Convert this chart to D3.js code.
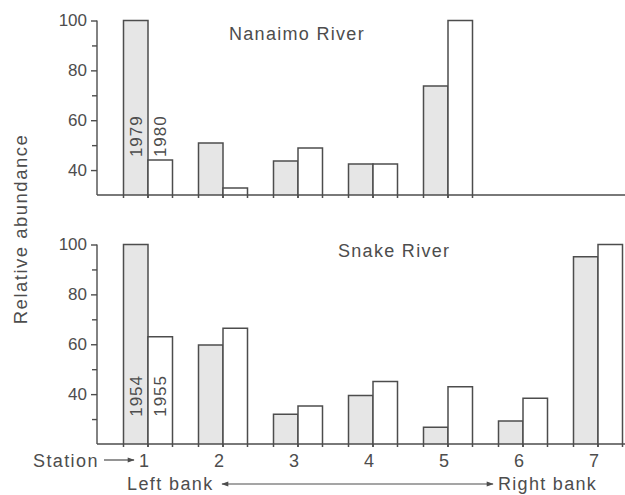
<!DOCTYPE html>
<html>
<head>
<meta charset="utf-8">
<script src="https://cdn.jsdelivr.net/npm/d3@7/dist/d3.min.js"></script>
<style>
  html, body { margin: 0; padding: 0; background: #fff; }
  svg { display: block; }
  text { font-family: "Liberation Sans", Arial, Helvetica, sans-serif; fill: #4d4d4d; }
</style>
</head>
<body>
<svg id="chart" width="625" height="495"></svg>
<script>
// Relative abundance by sampling station, left bank (1) to right bank (7)
const stations = [1, 2, 3, 4, 5, 6, 7];

const nanaimoYears = ["1979", "1980"];
const nanaimo1979 = [100, 50.9, 43.6, 42.4, 73.7, null, null];
const nanaimo1980 = [44.0, 32.8, 48.9, 42.4, 100, null, null];

const snakeYears = ["1954", "1955"];
const snake1954 = [100, 59.7, 31.9, 39.4, 26.7, 29.2, 95.1];
const snake1955 = [63.0, 66.4, 35.2, 45.1, 43.0, 38.3, 100];

const majorTicks = [40, 60, 80, 100];
const nanaimoMinor = [50, 70, 90];
const snakeMinor = [30, 50, 70, 90];

const svg = d3.select("#chart");
const ink = "#4d4d4d";
const axisLeftX = 97;
const rightEdge = 625;
const barW = 24.5;

// Station centres (shared edge between the two years' bars)
const x = d3.scalePoint().domain(stations).range([148, 598]);

// Arrowhead marker
const defs = svg.append("defs");
defs.append("marker")
  .attr("id", "arrow")
  .attr("viewBox", "0 0 10 10")
  .attr("refX", 9).attr("refY", 5)
  .attr("markerWidth", 9).attr("markerHeight", 7)
  .attr("markerUnits", "userSpaceOnUse")
  .attr("orient", "auto-start-reverse")
  .append("path")
  .attr("d", "M0,1.5 L10,5 L0,8.5 Z")
  .attr("fill", ink);

function panel(cfg) {
  const y = d3.scaleLinear().domain(cfg.domain).range(cfg.range);
  const base = cfg.range[0];
  const g = svg.append("g");

  // Axis line with major and minor ticks
  const major = d3.axisLeft(y).tickValues(majorTicks).tickSize(6).tickSizeOuter(0).tickPadding(4);
  const ax = g.append("g").attr("transform", `translate(${axisLeftX},0)`).call(major);
  ax.select(".domain").attr("stroke", ink).attr("stroke-width", 1.4)
    .attr("d", `M0,${base}V${y(100)}`);
  ax.selectAll(".tick line").attr("stroke", ink).attr("stroke-width", 1.4);
  ax.selectAll(".tick text")
    .style("font-family", '"Liberation Sans", Arial, sans-serif')
    .style("font-size", "17px").attr("fill", ink);

  const minor = d3.axisLeft(y).tickValues(cfg.minor).tickSize(5).tickFormat("");
  const mx = g.append("g").attr("transform", `translate(${axisLeftX},0)`).call(minor);
  mx.select(".domain").remove();
  mx.selectAll(".tick line").attr("stroke", ink).attr("stroke-width", 1.4);

  // Bars: first year shaded, second year open
  const series = [
    { vals: cfg.first, off: -barW, fill: "#e6e6e6" },
    { vals: cfg.second, off: 0, fill: "#ffffff" }
  ];
  series.forEach(s => {
    const data = stations.map((st, i) => ({ st, v: s.vals[i] })).filter(d => d.v != null);
    g.selectAll(null).data(data).enter().append("rect")
      .attr("x", d => x(d.st) + s.off)
      .attr("y", d => y(d.v))
      .attr("width", barW)
      .attr("height", d => base - y(d.v))
      .attr("fill", s.fill);
    g.selectAll(null).data(data).enter().append("path")
      .attr("d", d => {
        const x0 = x(d.st) + s.off, x1 = x0 + barW;
        return `M${x0},${base + 3}V${y(d.v)}H${x1}V${base + 3}`;
      })
      .attr("fill", "none")
      .attr("stroke", ink)
      .attr("stroke-width", 1.5);
  });

  // Baseline
  g.append("line")
    .attr("x1", axisLeftX).attr("x2", rightEdge)
    .attr("y1", base).attr("y2", base)
    .attr("stroke", ink).attr("stroke-width", 1.5);

  // Year labels written up the station-1 bars
  cfg.years.forEach((yr, i) => {
    const cx = x(stations[0]) + (i === 0 ? -barW / 2 : barW / 2);
    g.append("text")
      .attr("transform", `translate(${cx + 6},${y(cfg.labelAt)}) rotate(-90)`)
      .attr("text-anchor", "start")
      .style("font-size", "17px")
      .style("letter-spacing", "1px")
      .text(yr);
  });

  // River name
  g.append("text")
    .attr("x", cfg.titleX).attr("y", cfg.titleY)
    .style("font-size", "18px")
    .style("letter-spacing", "1.3px")
    .text(cfg.title);
}

panel({
  title: "Nanaimo River", titleX: 229, titleY: 40,
  domain: [30, 100], range: [195, 20.5],
  minor: nanaimoMinor,
  first: nanaimo1979, second: nanaimo1980,
  years: nanaimoYears, labelAt: 45.2
});

panel({
  title: "Snake River", titleX: 338, titleY: 257,
  domain: [20, 100], range: [444, 244.5],
  minor: snakeMinor,
  first: snake1954, second: snake1955,
  years: snakeYears, labelAt: 30.9
});

// Shared y-axis title
svg.append("text")
  .attr("transform", "translate(27,229) rotate(-90)")
  .attr("text-anchor", "middle")
  .style("font-size", "18.5px")
  .style("letter-spacing", "1.5px")
  .text("Relative abundance");

// Station numbers
svg.selectAll(".stn").data(stations).enter().append("text")
  .attr("class", "stn")
  .attr("x", d => x(d) - 4)
  .attr("y", 467)
  .attr("text-anchor", "middle")
  .style("font-size", "18px")
  .text(d => d);

svg.append("text")
  .attr("x", 33).attr("y", 467)
  .style("font-size", "18px")
  .style("letter-spacing", "1.4px")
  .text("Station");

svg.append("line")
  .attr("x1", 104).attr("x2", 134)
  .attr("y1", 460).attr("y2", 460)
  .attr("stroke", ink).attr("stroke-width", 1.2)
  .attr("marker-end", "url(#arrow)");

// Bank direction
svg.append("text")
  .attr("x", 127).attr("y", 490)
  .style("font-size", "18px")
  .style("letter-spacing", "1.4px")
  .text("Left bank");

svg.append("line")
  .attr("x1", 222).attr("x2", 493)
  .attr("y1", 484).attr("y2", 484)
  .attr("stroke", ink).attr("stroke-width", 1.2)
  .attr("marker-start", "url(#arrow)")
  .attr("marker-end", "url(#arrow)");

svg.append("text")
  .attr("x", 498).attr("y", 490)
  .style("font-size", "18px")
  .style("letter-spacing", "1.3px")
  .text("Right bank");
</script>
</body>
</html>
